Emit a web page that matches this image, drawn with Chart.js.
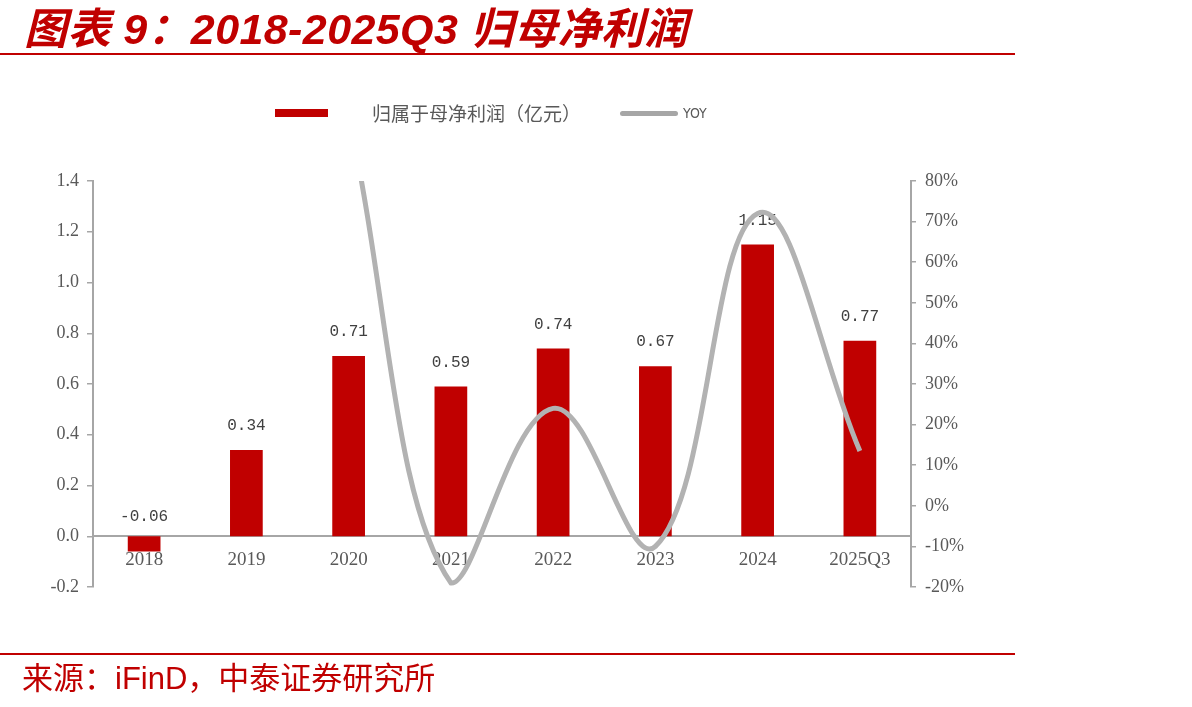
<!DOCTYPE html>
<html>
<head>
<meta charset="utf-8">
<script src="https://cdn.jsdelivr.net/npm/chart.js@4.4.1/dist/chart.umd.min.js"></script>
<style>
  html, body { margin: 0; padding: 0; background: #fff; }
  #wrap { position: relative; width: 1192px; height: 707px; overflow: hidden; }
  #chart { position: absolute; left: 0; top: 0; }
  .title { position: absolute; left: 24px; top: -6px; line-height: 1; letter-spacing: 0.4px; color: #C00000; font: italic bold 43px "Liberation Sans", "Noto Sans CJK SC", sans-serif; white-space: nowrap; }
  .rule { position: absolute; left: 0; width: 1015px; height: 2px; background: #C00000; }
  .source { position: absolute; left: 22px; top: 653px; line-height: 1; color: #C00000; font: 31px "Liberation Sans", "Noto Sans CJK SC", sans-serif; white-space: nowrap; }
  .lg-bar { position: absolute; left: 275px; top: 109px; width: 53px; height: 8px; background: #C00000; }
  .lg-text { position: absolute; left: 372px; top: 99px; line-height: 1; color: #595959; font: 19px "Noto Sans CJK SC", sans-serif; white-space: nowrap; }
  .lg-line { position: absolute; left: 620px; top: 111px; width: 58px; height: 5px; border-radius: 3px; background: #A6A6A6; }
  .lg-yoy { position: absolute; left: 683px; top: 105px; line-height: 1; color: #595959; font: 14px "DejaVu Sans Condensed", sans-serif; }
</style>
</head>
<body>
<div id="wrap">
  <canvas id="chart" width="1192" height="707"></canvas>
  <div class="title">图表 9：2018-2025Q3 归母净利润</div>
  <div class="rule" style="top:53px"></div>
  <div class="lg-bar"></div>
  <div class="lg-text">归属于母净利润（亿元）</div>
  <div class="lg-line"></div>
  <div class="lg-yoy">YOY</div>
  <div class="rule" style="top:653px"></div>
  <div class="source">来源：iFinD，中泰证券研究所</div>
</div>
<script>
const years = ['2018', '2019', '2020', '2021', '2022', '2023', '2024', '2025Q3'];
const netProfit = [-0.06, 0.34, 0.71, 0.59, 0.74, 0.67, 1.15, 0.77];
const yoy = [null, null, 96, -19, 24, -10, 72, 13.5];

const leftMin = -0.2, leftMax = 1.4, leftStep = 0.2;
const rightMin = -20, rightMax = 80, rightStep = 10;

const axisGrey = '#A6A6A6';
const tickFont = { family: '"Liberation Serif", "Times New Roman", serif', size: 18 };

// value labels above the bars, drawn before the line goes on top
const barLabels = {
    id: 'barLabels',
    afterDatasetDraw(chart, args) {
        if (args.index !== 0) return;
        const ctx = chart.ctx;
        ctx.save();
        ctx.font = '16px "Liberation Mono", monospace';
        ctx.fillStyle = '#404040';
        ctx.textAlign = 'center';
        ctx.textBaseline = 'bottom';
        args.meta.data.forEach((bar, i) => {
            const v = netProfit[i];
            const top = Math.min(bar.y, bar.base);
            ctx.fillText(v.toFixed(2), bar.x, top - (v < 0 ? 11 : 16));
        });
        ctx.restore();
    }
};

new Chart(document.getElementById('chart'), {
    type: 'bar',
    data: {
        labels: years,
        datasets: [
            {
                label: '归属于母净利润（亿元）',
                data: netProfit,
                backgroundColor: '#C00000',
                yAxisID: 'y',
                categoryPercentage: 0.8,
                barPercentage: 0.4,
                order: 2
            },
            {
                label: 'YOY',
                type: 'line',
                data: yoy,
                yAxisID: 'y1',
                borderColor: '#B2B2B2',
                borderWidth: 5,
                pointRadius: 0,
                tension: 0.4,
                spanGaps: true,
                fill: false,
                order: 1
            }
        ]
    },
    options: {
        responsive: false,
        animation: false,
        layout: { padding: { left: 0, right: 200, top: 181, bottom: 120 } },
        plugins: {
            legend: { display: false },
            tooltip: { enabled: false }
        },
        scales: {
            x: {
                position: { y: 0 },
                grid: { display: false, drawTicks: false },
                border: { display: true, color: axisGrey, width: 2 },
                ticks: { color: '#595959', font: { family: tickFont.family, size: 19 }, padding: 12 },
                afterFit(scale) { scale.height = 0; }
            },
            y: {
                position: 'left',
                min: leftMin,
                max: leftMax,
                grid: { drawOnChartArea: false, drawTicks: true, tickLength: 6, color: axisGrey, lineWidth: 1.5 },
                border: { display: true, color: axisGrey, width: 2 },
                ticks: {
                    stepSize: leftStep,
                    color: '#595959',
                    font: tickFont,
                    padding: 8,
                    callback: v => (Math.abs(v) < 1e-9 ? 0 : v).toFixed(1)
                },
                afterFit(scale) { scale.width = 93; }
            },
            y1: {
                position: 'right',
                min: rightMin,
                max: rightMax,
                grid: { drawOnChartArea: false, drawTicks: true, tickLength: 5, color: axisGrey, lineWidth: 1.5 },
                border: { display: true, color: axisGrey, width: 2 },
                ticks: {
                    stepSize: rightStep,
                    color: '#595959',
                    font: tickFont,
                    padding: 9,
                    callback: v => Math.round(v) + '%'
                },
                afterFit(scale) { scale.width = 81; }
            }
        }
    },
    plugins: [barLabels]
});
</script>
</body>
</html>
